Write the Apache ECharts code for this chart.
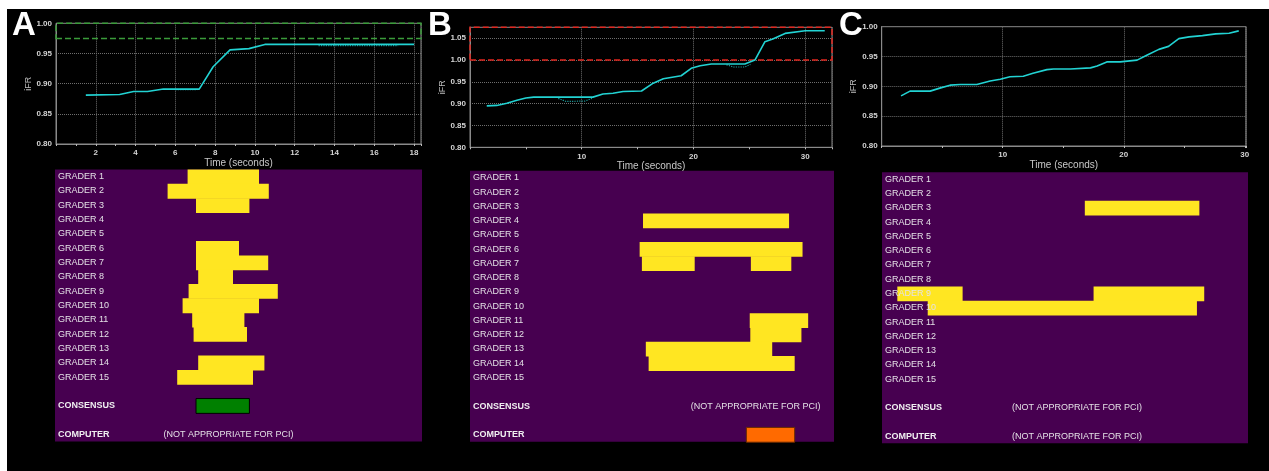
<!DOCTYPE html>
<html><head><meta charset="utf-8">
<script src="https://cdn.jsdelivr.net/npm/echarts@6/dist/echarts.min.js"></script>
<style>
html,body{margin:0;padding:0;background:#fff;}
#wrap{position:relative;width:1269px;height:471px;background:#fff;overflow:hidden;}
#bg{position:absolute;left:7px;top:9px;right:0;bottom:0;background:#000;}
#c{position:absolute;left:0;top:0;width:1269px;height:471px;}
</style>
</head><body>
<div id="wrap"><div id="bg"></div><div id="c"></div></div>
<script>
// ---------- iFR traces (time in seconds, iFR value) ----------
const timeA = [1.5, 3.2, 3.9, 4.6, 5.4, 7.2, 7.9, 8.75, 9.7, 10.5, 18.0];
const ifrA  = [0.881, 0.882, 0.887, 0.887, 0.891, 0.891, 0.928, 0.956, 0.958, 0.965, 0.965];
const timeA2 = [6.0, 7.1, null, 13.2, 17.2];
const ifrA2  = [0.890, 0.890, null, 0.963, 0.963];

const timeB = [1.5, 2.4, 3.3, 4.2, 5.0, 5.7, 11.0, 11.9, 12.8, 13.7, 15.35, 16.4, 17.3, 18.9, 19.8, 20.6, 21.6, 24.6, 25.5, 26.4, 27.1, 28.2, 30.0, 31.75];
const ifrB  = [0.895, 0.896, 0.901, 0.908, 0.913, 0.915, 0.915, 0.922, 0.924, 0.928, 0.929, 0.947, 0.957, 0.964, 0.981, 0.987, 0.991, 0.991, 1.000, 1.042, 1.048, 1.061, 1.067, 1.067];
const timeB2 = [7.9, 8.6, 10.3, 11.0, null, 22.96, 23.6, 24.6, 25.1];
const ifrB2  = [0.912, 0.905, 0.906, 0.913, null, 0.989, 0.984, 0.984, 0.990];

const timeC = [1.6, 2.34, 4.0, 4.8, 5.65, 6.48, 7.86, 8.96, 9.8, 10.6, 11.7, 12.5, 13.65, 14.2, 15.6, 17.25, 17.8, 18.6, 19.7, 21.1, 21.9, 22.9, 23.7, 24.55, 25.4, 26.5, 27.6, 28.7, 29.5];
const ifrC  = [0.884, 0.892, 0.892, 0.897, 0.902, 0.903, 0.903, 0.909, 0.912, 0.916, 0.917, 0.922, 0.928, 0.929, 0.929, 0.931, 0.934, 0.941, 0.941, 0.944, 0.952, 0.962, 0.967, 0.980, 0.983, 0.985, 0.988, 0.989, 0.993];

// ---------- axis settings ----------
const xMaxA = 18.35, xMaxB = 32.4, xMaxC = 30.1;
const xStepA = 2, xStepB = 10, xStepC = 10;
const yMaxA = 1.0, yMaxB = 1.075, yMaxC = 1.0;
const yMin = 0.8, yStep = 0.05;
const zoneA = [0.975, 1.0];     // green dashed zone
const zoneB = [1.0, 1.075];     // red dashed zone

// ---------- grader rows ----------
const rowLabels = ['GRADER 1','GRADER 2','GRADER 3','GRADER 4','GRADER 5','GRADER 6','GRADER 7','GRADER 8','GRADER 9','GRADER 10','GRADER 11','GRADER 12','GRADER 13','GRADER 14','GRADER 15','','CONSENSUS','','COMPUTER'];
const boldRows = ['CONSENSUS','COMPUTER'];

// [row, start s, end s]
const gradersA = [['GRADER 1',6.63,10.2],['GRADER 2',5.63,10.69],['GRADER 3',7.05,9.72],['GRADER 6',7.05,9.2],['GRADER 7',7.05,10.66],['GRADER 8',7.16,8.9],['GRADER 9',6.68,11.14],['GRADER 10',6.38,10.2],['GRADER 11',6.86,9.47],['GRADER 12',6.93,9.6],['GRADER 14',7.16,10.47],['GRADER 15',6.11,9.9]];
const consensusA = [['CONSENSUS',7.05,9.72]];
const computerA = [];
const notesA = [['COMPUTER',5.43,'(NOT APPROPRIATE FOR PCI)']];

const gradersB = [['GRADER 4',15.4,28.4],['GRADER 6',15.1,29.6],['GRADER 7',15.3,20.0],['GRADER 7',25.0,28.6],['GRADER 11',24.9,30.1],['GRADER 12',24.95,29.5],['GRADER 13',15.65,26.9],['GRADER 14',15.9,28.9]];
const consensusB = [];
const computerB = [['COMPUTER',24.6,28.9]];
const notesB = [['CONSENSUS',19.65,'(NOT APPROPRIATE FOR PCI)']];

const gradersC = [['GRADER 3',16.68,26.1],['GRADER 9',1.26,6.63],['GRADER 9',17.4,26.5],['GRADER 10',3.76,25.9]];
const consensusC = [];
const computerC = [];
const notesC = [['CONSENSUS',10.7,'(NOT APPROPRIATE FOR PCI)'],['COMPUTER',10.7,'(NOT APPROPRIATE FOR PCI)']];

// ---------- build ----------
const FONT = 'Liberation Sans, Arial, sans-serif';
function pairs(t, v){ return t.map((x,i)=> x==null ? [null,null] : [x, v[i]]); }
function toBars(list){ return list.map(r => [r[1], r[2], rowLabels.indexOf(r[0])]); }

const grids = [
  {left:56, top:23.3, width:365, height:120.7},
  {left:470, top:27.3, width:362, height:120},
  {left:881.7, top:26.7, width:364.3, height:119.3},
  {left:55, top:169.5, width:367, height:272},
  {left:470, top:170.7, width:364, height:271},
  {left:882, top:172.3, width:366, height:271}
].map((g,i)=> Object.assign(g, i<3
  ? {show:true, borderColor:'#8a8a8a', borderWidth:1, backgroundColor:'transparent'}
  : {show:true, borderWidth:0, backgroundColor:'#470050'}));

function topX(gi, max, step){
  return {type:'value', gridIndex:gi, min:0, max:max, interval:step,
    name:'Time (seconds)', nameLocation:'middle', nameGap:13,
    nameTextStyle:{color:'#c8c8c8', fontSize:10, fontFamily:FONT},
    axisLine:{show:true, lineStyle:{color:'#8a8a8a'}},
    axisTick:{show:true, length:2, lineStyle:{color:'#bbbbbb'}},
    minorTick:{show:true, splitNumber:2, length:2, lineStyle:{color:'#bbbbbb'}},
    axisLabel:{color:'#d4d4d4', fontSize:8, fontWeight:'bold', margin:5, fontFamily:FONT,
      formatter: v => (v>0 && Math.abs(v/step-Math.round(v/step))<1e-6) ? String(Math.round(v)) : ''},
    splitLine:{show:true, lineStyle:{color:'#6e6e6e', type:'dotted', width:1}}};
}
function topY(gi, max){
  return {type:'value', gridIndex:gi, min:yMin, max:max, interval:yStep,
    name:'iFR', nameLocation:'middle', nameGap:22,
    nameTextStyle:{color:'#bdbdbd', fontSize:9, fontFamily:FONT},
    axisLine:{show:true, lineStyle:{color:'#8a8a8a'}},
    axisTick:{show:false},
    axisLabel:{color:'#d4d4d4', fontSize:8, fontWeight:'bold', margin:4, fontFamily:FONT,
      formatter: v => (Math.abs(v/yStep-Math.round(v/yStep))<1e-6) ? v.toFixed(2) : ''},
    splitLine:{show:true, lineStyle:{color:'#6e6e6e', type:'dotted', width:1}}};
}
function botX(gi, max){
  return {type:'value', gridIndex:gi, min:0, max:max, show:false, splitLine:{show:false}};
}
function botY(gi){
  return {type:'category', gridIndex:gi, data:rowLabels, inverse:true,
    axisLine:{show:false}, axisTick:{show:false}, splitLine:{show:false}, axisLabel:{show:false}};
}

function barSeries(gi, list, fill, stroke, lw){
  return {type:'custom', xAxisIndex:gi, yAxisIndex:gi, data:toBars(list), encode:{x:[0,1], y:2}, silent:true, z:2,
    renderItem:(params, api)=>{
      const s = api.coord([api.value(0), api.value(2)]);
      const e = api.coord([api.value(1), api.value(2)]);
      const h = api.size([0,1])[1];
      return {type:'rect', shape:{x:s[0], y:s[1]-h/2, width:e[0]-s[0], height:h+0.5},
        style:{fill:fill, stroke:stroke, lineWidth:lw}};
    }};
}
// row labels drawn on top of the bars (as in the original figure)
function rowLabelSeries(gi){
  const rows = rowLabels.map((l,i)=>[0,i]).filter(r => rowLabels[r[1]] !== '');
  return {type:'custom', xAxisIndex:gi, yAxisIndex:gi, silent:true, z:10, data:rows, encode:{x:0, y:1},
    renderItem:(params, api)=>{
      const p = api.coord([api.value(0), api.value(1)]);
      const txt = rowLabels[api.value(1)];
      const bold = boldRows.indexOf(txt) >= 0;
      return {type:'text', x:p[0]+3, y:p[1],
        style:{text:txt, fill: bold ? '#efeef0' : '#e4e0e6', font:(bold?'bold ':'')+'9px '+FONT, align:'left', verticalAlign:'middle'}};
    }};
}
function noteSeries(gi, notes){
  return {type:'custom', xAxisIndex:gi, yAxisIndex:gi, silent:true, z:3,
    data: notes.map(n => [n[1], rowLabels.indexOf(n[0])]), encode:{x:0, y:1},
    renderItem:(params, api)=>{
      const p = api.coord([api.value(0), api.value(1)]);
      return {type:'text', x:p[0], y:p[1],
        style:{text:notes[params.dataIndex][2], fill:'#e4e0e6', font:'9px '+FONT, align:'left', verticalAlign:'middle'}};
    }};
}
function lineSeries(gi, t, v, zone, zoneColor){
  const s = {type:'line', xAxisIndex:gi, yAxisIndex:gi, data:pairs(t,v), symbol:'none', silent:true, z:4,
    lineStyle:{color:'#22d3d3', width:1.6}};
  if (zone) s.markArea = {silent:true, itemStyle:{color:'rgba(0,0,0,0)', borderColor:zoneColor, borderWidth:1.5, borderType:'dashed'},
    data:[[{yAxis:zone[0]},{yAxis:zone[1]}]]};
  return s;
}
function dotSeries(gi, t, v){
  return {type:'line', xAxisIndex:gi, yAxisIndex:gi, data:pairs(t,v), symbol:'none', silent:true, z:3, connectNulls:false,
    lineStyle:{color:'#1c9c9c', width:1.2, type:'dotted'}};
}

const YEL = '#ffe622';
const option = {
  animation:false,
  backgroundColor:'transparent',
  textStyle:{fontFamily:FONT},
  grid: grids,
  xAxis:[topX(0,xMaxA,xStepA), topX(1,xMaxB,xStepB), topX(2,xMaxC,xStepC), botX(3,xMaxA), botX(4,xMaxB), botX(5,xMaxC)],
  yAxis:[topY(0,yMaxA), topY(1,yMaxB), topY(2,yMaxC), botY(3), botY(4), botY(5)],
  series:[
    dotSeries(0, timeA2, ifrA2), lineSeries(0, timeA, ifrA, zoneA, '#3a9c3a'),
    dotSeries(1, timeB2, ifrB2), lineSeries(1, timeB, ifrB, zoneB, '#e0261e'),
    lineSeries(2, timeC, ifrC, null),
    barSeries(3, gradersA, YEL, null, 0), barSeries(3, consensusA, '#008000', '#000', 1), barSeries(3, computerA, '#ff6a00', '#6a2a00', 1), noteSeries(3, notesA), rowLabelSeries(3),
    barSeries(4, gradersB, YEL, null, 0), barSeries(4, consensusB, '#008000', '#000', 1), barSeries(4, computerB, '#ff6a00', '#6a2a00', 1), noteSeries(4, notesB), rowLabelSeries(4),
    barSeries(5, gradersC, YEL, null, 0), barSeries(5, consensusC, '#008000', '#000', 1), barSeries(5, computerC, '#ff6a00', '#6a2a00', 1), noteSeries(5, notesC), rowLabelSeries(5)
  ],
  graphic:[
    {type:'text', left:12, top:9, z:100, style:{text:'A', fill:'#fff', font:'bold 33px '+FONT}},
    {type:'text', left:428, top:9, z:100, style:{text:'B', fill:'#fff', font:'bold 33px '+FONT}},
    {type:'text', left:839, top:9, z:100, style:{text:'C', fill:'#fff', font:'bold 33px '+FONT}}
  ]
};
const chart = echarts.init(document.getElementById('c'), null, {renderer:'canvas'});
chart.setOption(option);
</script>
</body></html>
